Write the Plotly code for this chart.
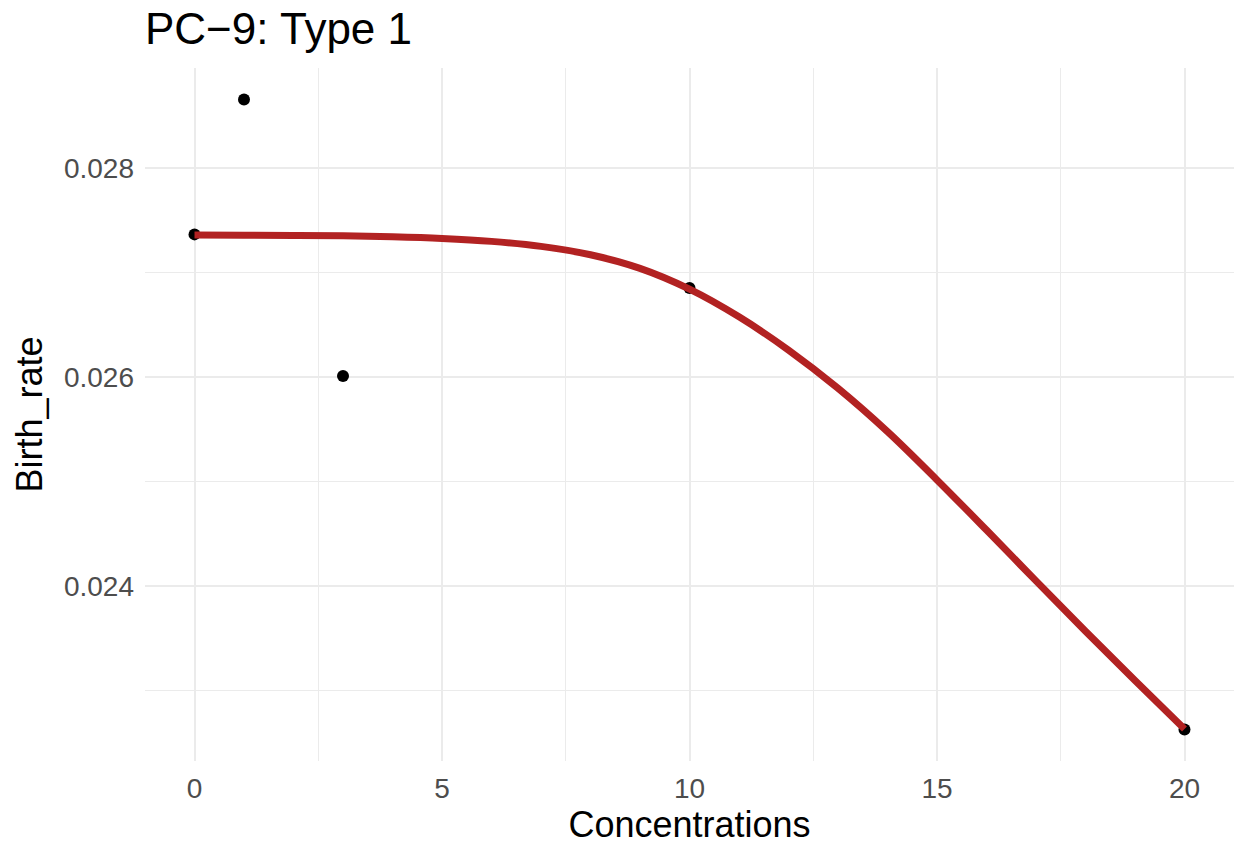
import plotly.graph_objects as go

# Observed birth rates at each concentration
conc = [0, 1, 3, 10, 20]
birth_rate = [0.027366, 0.028657, 0.026010, 0.026853, 0.022627]

# Fitted dose-response curve, sampled at whole concentrations
fit_conc = list(range(0, 21))
fit_rate = [0.027359, 0.027358, 0.027356, 0.027352, 0.027343, 0.027327,
            0.027299, 0.027251, 0.027171, 0.027041, 0.026842, 0.026577,
            0.026259, 0.025893, 0.025478, 0.025016, 0.024536, 0.024049,
            0.023567, 0.023095, 0.022631]

x_ticks = [0, 5, 10, 15, 20]
y_ticks = [0.024, 0.026, 0.028]

FONT = "Liberation Sans, Arial, Helvetica, sans-serif"
GRID = "#EBEBEB"

# ggplot-style 5% expansion of the data range
x_lo, x_hi = min(conc), max(conc)
x_pad = (x_hi - x_lo) * 0.05
all_y = birth_rate + fit_rate
y_lo, y_hi = min(all_y), max(all_y)
y_pad = (y_hi - y_lo) * 0.05

fig = go.Figure()

fig.add_trace(go.Scatter(
    x=conc, y=birth_rate, mode="markers",
    marker=dict(color="black", size=12),
    showlegend=False, hoverinfo="x+y",
))

fig.add_trace(go.Scatter(
    x=fit_conc, y=fit_rate, mode="lines",
    line=dict(color="#B22222", width=7, shape="spline", smoothing=1.0),
    showlegend=False, hoverinfo="x+y",
))

fig.update_layout(
    width=1238, height=845,
    margin=dict(l=145, r=4, t=68, b=84),
    paper_bgcolor="white", plot_bgcolor="white",
    font=dict(family=FONT, color="black"),
    title=dict(
        text="PC\u22129: Type 1",
        font=dict(family=FONT, size=44, color="black"),
        xref="paper", x=0, xanchor="left",
        yref="container", y=1 - 29 / 845, yanchor="middle",
    ),
)

fig.update_xaxes(
    range=[x_lo - x_pad, x_hi + x_pad],
    tickmode="array", tickvals=x_ticks, ticktext=[str(v) for v in x_ticks],
    tickfont=dict(family=FONT, size=28, color="#4D4D4D"),
    ticklabelstandoff=8,
    showgrid=True, gridcolor=GRID, gridwidth=2,
    minor=dict(dtick=2.5, tick0=0, showgrid=True, gridcolor=GRID, gridwidth=1.2),
    zeroline=False, showline=False, ticks="",
    title=dict(text="Concentrations", font=dict(family=FONT, size=36, color="black"),
               standoff=6),
    automargin=False,
)

fig.update_yaxes(
    range=[y_lo - y_pad, y_hi + y_pad],
    tickmode="array", tickvals=y_ticks, ticktext=[f"{v:.3f}" for v in y_ticks],
    tickfont=dict(family=FONT, size=28, color="#4D4D4D"),
    ticklabelstandoff=10,
    showgrid=True, gridcolor=GRID, gridwidth=2,
    minor=dict(dtick=0.001, tick0=0, showgrid=True, gridcolor=GRID, gridwidth=1.2),
    zeroline=False, showline=False, ticks="",
    title=dict(text="Birth_rate", font=dict(family=FONT, size=36, color="black"),
               standoff=10),
    automargin=False,
)

fig.write_html("out.html")
